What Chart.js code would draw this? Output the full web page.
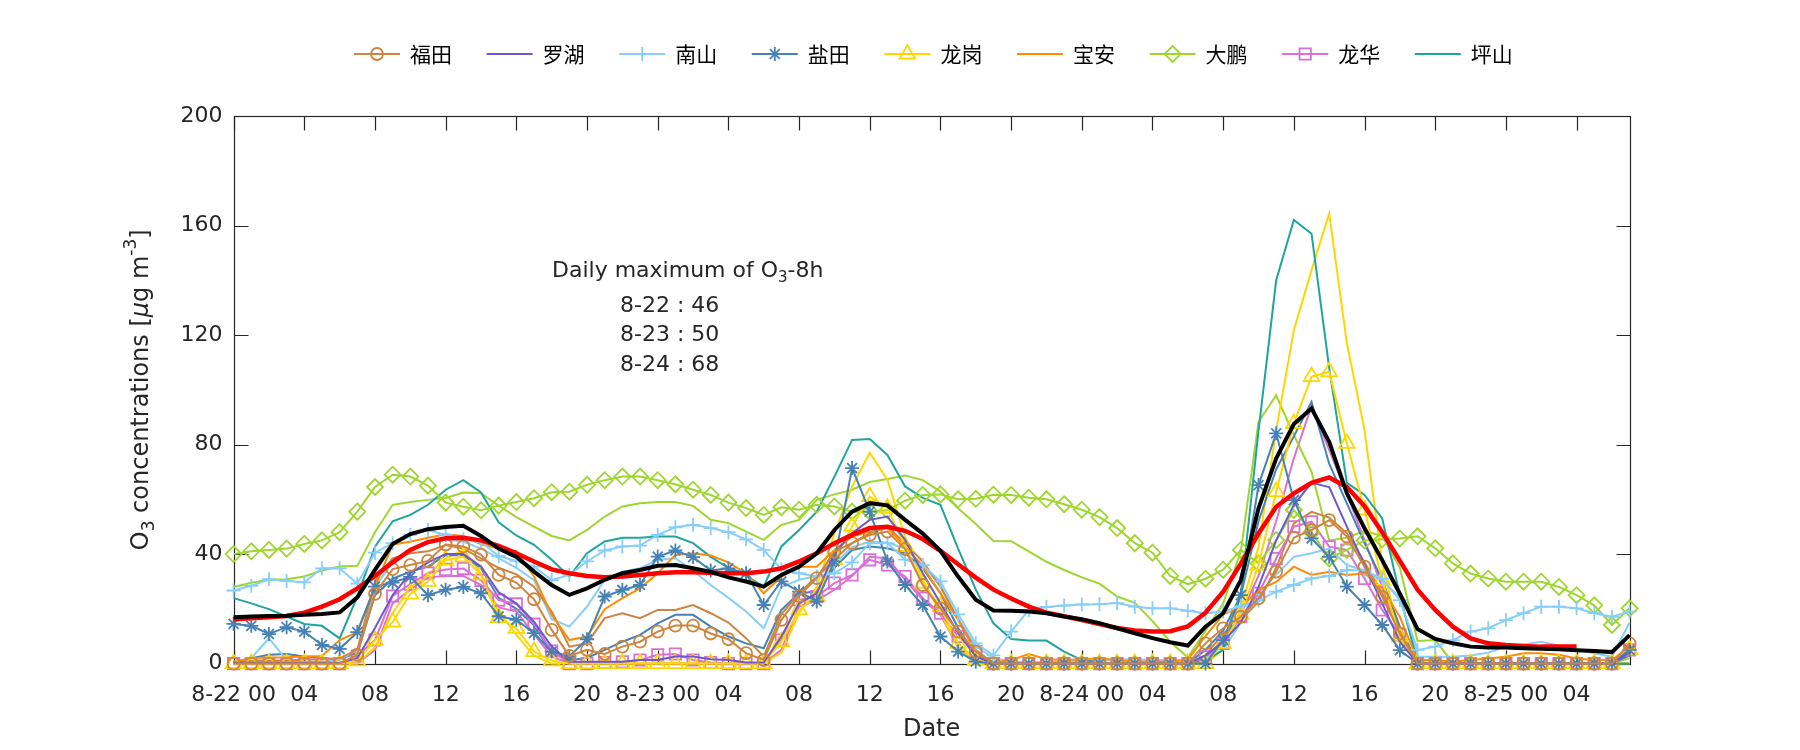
<!DOCTYPE html>
<html><head><meta charset="utf-8">
<script src="https://cdn.jsdelivr.net/npm/chart.js@4.4.1/dist/chart.umd.min.js"></script>
<style>html,body{margin:0;padding:0;background:#fff;}#wrap{width:1800px;height:750px;}</style>
</head><body><div id="wrap"><canvas id="c" width="1800" height="750"></canvas></div>
<script>
// ---------------- DATA ----------------
const hours = [0,1,2,3,4,5,6,7,8,9,10,11,12,13,14,15,16,17,18,19,20,21,22,23,24,25,26,27,28,29,30,31,32,33,34,35,36,37,38,39,40,41,42,43,44,45,46,47,48,49,50,51,52,53,54,55,56,57,58,59,60,61,62,63,64,65,66,67,68,69,70,71,72,73,74,75,76,77,78,79];
const xTickPos = [0,4,8,12,16,20,24,28,32,36,40,44,48,52,56,60,64,68,72,76];
const xTickLabels = ['8-22 00','04','08','12','16','20','8-23 00','04','08','12','16','20','8-24 00','04','08','12','16','20','8-25 00','04'];
const yTickPos = [0,40,80,120,160,200];
const stationNames = ['福田','罗湖','南山','盐田','龙岗','宝安','大鹏','龙华','坪山'];

const futianObs = [0,0,0,0,0,0,0,3.3,25.5,34.5, 36,37.5,43.5,42.8,39.8,32.4,29.6,23.5,12.3,2.8, 5,3.5,6.2,8,11.7,13.9,13.9,11,8.9,3.8, 1.3,16,24.7,31.2,40.9,44,47,48.2,41.8,28.7, 20.2,11.7,4.4,0,0,0,0,0,0,0, 0,0,0,0,0,7.4,12.9,17.1,23.8,33.6, 46,48.8,52.4,46.4,35.4,24.4,11,0,0,0, 0,0,0,0,0,0,0,0,0,7.4];
const luohu = [0.3,0.3,0.3,0.3,0.3,0.3,0.3,2,13,25, 33,37,40,40,35.5,26,22,15.3,6.2,0.7, 0.7,0.7,0.7,1.3,1.3,2.6,2.6,1.6,1.3,0.4, 0.4,9.9,22,25.7,40.3,47.6,52.5,53.7,45.2,33, 22,11.1,2.6,0,0,0,0,0,0,0, 0,0,0,0,0,3,8,15,28,45, 58,66,64.5,50,36,22,8,0,0,0, 0,0,0,0,0,0,0,0,0,4];
const nanshanObs = [26.7,28.4,30.8,30.2,29.7,34.8,34.8,29.2,40.5,44, 47,48.8,47,45.4,44.5,39.3,37.5,35.4,30.5,32.4, 37.3,41.3,42.8,43.1,47,49.8,50.7,49.5,48,45.4, 41.5,34.5,33,31.8,33,37,44,44,38,36, 30,18,7.4,3,11.7,19.6,20.7,21.2,21.6,21.7, 22.1,20.8,20.2,20.2,19.3,18.4,19,21,23,26.3, 28.7,31.1,32,34.2,34,31,23.2,5,6.2,8.6, 11.7,12.9,15.9,18.4,20.8,20.8,20.2,18.4,17.1,19];
const yantianObs = [14.5,13.8,10.8,13.3,11.7,6.8,5.4,11.5,28.1,29.6, 31.7,25,27,28,25.7,17.3,16,11.1,4.4,2.6, 8.9,24.5,26.9,28.7,39.1,41.3,38.9,34,34.8,33, 21.4,30,26.3,22.7,37.3,71.4,55.5,37.3,28.7,21.4, 9.9,4.4,0.7,0,0,0,0,0,0,0, 0,0,0,0,0,0,8.6,25,65.2,84.1, 59.7,45.7,39,28.1,21.4,14.1,4.9,0,0,0, 0,0,0,0,0,0,0,0,0,5];
const longgangObs = [0,0,0,0,0,0,0,1,8.5,15.2, 25.4,30,37.8,39,32.4,16.8,12.9,4.4,1,0, 0,0,0,0,0,0,0,0,0,0, 0,8,19.6,24.5,37.9,50.1,61,56.8,42.8,29.4, 20.8,7.4,1.3,0,0,0,0,0,0,0, 0,0,0,0,0,0,7.4,18,36,62.8, 87.7,104.8,106.6,80.4,56.1,30.5,9.8,0,0,0, 0,0,0,0,0,0,0,0,0,5];
const baoan = [0.7,2,2.2,2.3,2.6,2.8,8.6,11.5,28,43.5, 44.5,46,47.2,46.6,43.6,42,41.1,31.8,17.8,8.6, 9.9,19.9,23.9,27.5,33,39.7,40.3,39.5,37,33, 25.7,31.8,35.4,35.4,41.5,46.4,48.2,49.5,42.8,35.4, 25.7,16,3.8,0.4,1.3,3.5,1.6,1.3,1.6,1.9, 1.3,0.7,0.7,0.7,1.5,10,18,20.5,26.9,29.8, 35.4,32.4,33.5,32.4,33,27.5,17,1.3,1.3,0.7, 1.3,1.9,2.5,3.8,3.8,3.2,1.9,1.3,1.3,6.2];
const dapengObs = [40,41,41.5,42,43.7,45,48,55.5,64.5,69, 68.3,65,58.8,57.3,56,57.7,59,60.4,62.6,62.8, 65.3,67,68.3,68.3,67,65.5,63.5,61.6,58.8,56.8, 54.3,57.1,56.2,58,57.4,55.5,55.5,56,59.5,61.6, 61.8,60,60.2,61.7,61.6,60.6,60,58.2,56.2,53.5, 49.5,44,40.5,32,29,31,34.3,41.5,36.6,45.1, 56.1,48,38.4,41.5,45,45.4,45.7,46.5,42.1,36.6, 32.9,31.1,29.9,29.9,29.9,28,25,21.3,14.1,20.2];
const longhuaObs = [0,0,0,0,0,0,0,2.8,8.6,24.7, 29,33.1,34.4,34.7,30.4,23.2,21.8,14.4,4.6,0, 0,0.4,0.7,1.3,3.2,3.5,1.3,0.4,0,0, 0,8.6,23.3,24.5,29.4,32.4,37.9,36,31.8,23.9, 18.4,9.9,4.4,0,0,0,0,0,0,0, 0,0,0,0,0,2.5,7.4,17.1,25.7,38.4, 50,51.8,42.7,41.5,31.1,19.6,10.4,0,0,0, 0,0,0,0,0,0,0,0,0,5];
const pingshan = [23.9,22,19.9,17.2,14.5,13.8,9.2,24.5,42.7,52, 54.3,58,63.5,67,62.5,51.6,46.8,43.4,37.9,31.8, 40.3,44.6,46,46,46.4,46.4,44,39,35,32, 28.1,42.8,48.8,55.5,68.3,81.7,82,76.2,64.7,60.5, 58,42,27,14.7,9,8.4,8.4,4.4,1.3,0.5, 0,0,0,0,0,1,5,25,85,140, 162,157,108,66,61.6,53,25,0.5,0,0, 0,0,0,0,0,0,0,0,0,0];

const futianSim = [0.5,1,1,1,1.5,1.5,2,5,30,38.4, 40.3,41,43.3,42,38.4,35,32.6,28.1,19,6.2, 7.4,16.6,18.4,16.6,19.6,19.6,21.4,18.4,15,9.3, 2.6,18,25.7,31.8,37.9,44,47.6,50,44,37.3, 28.1,16,5,0,0,0,0,0,0,0, 0,0,0,0,0,3,11,15.9,22.6,35, 51.2,55.4,53.3,47.6,37,25.6,12.3,0,0,0, 0,0,0,0,0,0,0,0,0,5];
const nanshanSim = [0.7,2,9.2,1.3,0.7,0.7,1.3,5,28,37, 41.5,44,45.2,44.6,42,38.5,35,30.5,16.2,13.5, 20.8,30.6,33.6,34.8,37.9,38.5,34,28.7,24,19, 12.9,28,30.6,32,36.5,42.5,44.5,44.2,42,36, 28.5,16.5,6.2,2,0.8,0.5,0.5,0.8,1,1, 1.5,1.5,1.3,1.3,1,2,5,15,25,32.5, 39,40.3,42,36,34,30.5,24,2.5,2.5,2.5, 3,4,6.2,7,8,6.5,5,3.8,2.5,15];
const yantianSim = [0.5,2,3.2,3.5,2.6,2,1.6,4,25,31, 33.6,35.4,39.6,39.6,34.8,24,20,14,3.8,1.3, 2,5,8,10.5,14.7,17.8,17.8,13.5,9.9,7.4, 5.6,19.6,25.7,26.3,35,41.5,42.8,42.1,40.3,34.8, 25.7,13,3,0,0,0,0,0,0,0, 0,0,0,0,0,5,12,25,52,71, 83,95.6,73,58.5,44,30.5,13.5,0,0,0, 0,0,0,0,0,0,0,0,0,3];
const longgangSim = [0,0,0,0,0,0,0,0,6,18.5, 27.8,32.4,38.5,41.5,33,19,10.5,2.9,0,0, 0,0,0,0,0,0,0,0,0,0, 0,4,18.4,28.1,47.6,64.7,77,67.1,46.4,30.6, 18.4,6.2,0,0,0,0,0,0,0,0, 0,0,0,0,0,0,5,20,42.7,85.3, 121.8,143.7,164.4,117,85.3,36.6,9.8,0,0,0, 0,0,0,0,0,0,0,0,0,0];
const dapengSim = [28,29.5,30.6,30.8,31.8,34,35.5,35.7,48,58, 59,59.8,60.5,62.5,62.2,57.7,53.5,50,46.6,45, 48.8,53.7,57.4,58.6,59,59,57.6,52.5,51.3,48.2, 45.2,50.7,52.5,59.8,61.8,63.5,66.3,67.4,68.7,67, 62.8,56.7,51,44.8,44.7,41,37.2,34.2,31.5,29.2, 24.5,22.2,15.5,8,2.2,12,22,41,88.3,98, 83.5,70,45,46,48.5,46.6,35,8.3,8.6,0.3, 0,0,0,0,0,0,0,0,0,2];
const longhuaSim = [0,0,0,0,0,0,0,0,5,22, 27,31.5,32,32,28.7,20.5,19,10.8,2.6,0, 0,0,0,0,0,0,0,0,0,0, 0,5,20.8,23,27,32,39,38.5,30.6,23.3, 17.8,6,0.5,0,0,0,0,0,0,0, 0,0,0,0,0,2,8,18,32,52, 75,94,78,62,45,28,10,0,0,0, 0,0,0,0,0,0,0,0,0,3];

const cityMean = [16.9,17.2,17.4,17.5,17.8,18.1,18.7,24.2,34.2,43.7, 47.3,49.1,49.9,50.3,46.6,42,39,33.6,28.7,25.1, 27.5,30.6,33,34.2,35.7,36,34.8,33.5,31.5,30, 28.1,32.4,35.4,40.3,48.8,55.5,58.6,57.8,52.5,47.5, 41.2,31.8,23.3,19.4,19.3,19,18.4,17.2,16.2,14.8, 12.9,11.1,9.3,7.8,6.6,13.5,18.4,30.5,56.7,75, 87.5,93.2,81,62.2,49.4,37.8,25.5,12.6,9,7.4, 6.2,5.9,5.9,5.6,5.4,5.2,4.9,4.6,4.2,10.4];
const mean8h = [16.2,16.6,16.9,17.4,18.6,20.8,23.5,27.5,32,37, 41.5,44.4,45.8,46,45,43,40.3,37.3,34.4,33, 32,31.5,31.8,32.4,33,33.4,33.4,33.2,33,33, 33.6,34.8,37.3,40.3,44,47,49.5,50,48.5,45.5, 41.2,36.3,31.4,27,23.8,20.8,18.6,17.3,15.9,14.4, 13,12.1,11.7,11.8,13.6,18.6,26.3,36.5,47.5,57.3, 62.2,66,68,64.5,57.5,48,37.5,27,19.6,13.5, 9.2,7.4,6.8,6.4,6.2,6.2,6.2,null,null,null];

const dailyMaxDays = ['8-22','8-23','8-24'];
const dailyMaxValues = [46,50,68];

// ---------------- STYLE ----------------
const AX = '#262626';
const FONT = "'DejaVu Sans', sans-serif";
const CJK = "'Noto Sans CJK SC', sans-serif";
const FS = 22;      // tick / text font size
const LFS = 24;     // axis label font size
const C = {futian:'#CD853F', luohu:'#6A5ACD', nanshan:'#87CEFA', yantian:'#4682B4', longgang:'#FFD700',
           baoan:'#FF8C00', dapeng:'#9ED62E', longhua:'#DA70D6', pingshan:'#1FA59C'};

function obsSet(label, data, color, style, r, order) {
  return {label, data, borderColor: color, borderWidth: 2, pointStyle: style || false,
    pointRadius: style ? r : 0, pointBorderColor: color, pointBackgroundColor: 'rgba(0,0,0,0)',
    pointBorderWidth: 1.8, tension: 0, order, showInLegend: true};
}
function simSet(data, color, order) {
  return {label: '', data, borderColor: color, borderWidth: 2, pointRadius: 0, tension: 0, order};
}
const datasets = [
  {label:'mean', data: cityMean, borderColor:'#000000', borderWidth:4, pointRadius:0, tension:0, order:0},
  {label:'mean8h', data: mean8h, borderColor:'#FF0000', borderWidth:4.5, pointRadius:0, tension:0, order:1, spanGaps:false},
  obsSet(stationNames[0], futianObs, C.futian, 'circle', 6, 2),
  obsSet(stationNames[1], luohu, C.luohu, null, 0, 3),
  obsSet(stationNames[2], nanshanObs, C.nanshan, 'cross', 7, 4),
  obsSet(stationNames[3], yantianObs, C.yantian, 'star', 7, 5),
  obsSet(stationNames[4], longgangObs, C.longgang, 'triangle', 9, 6),
  obsSet(stationNames[5], baoan, C.baoan, null, 0, 7),
  obsSet(stationNames[6], dapengObs, C.dapeng, 'rectRot', 8, 8),
  obsSet(stationNames[7], longhuaObs, C.longhua, 'rect', 8, 9),
  obsSet(stationNames[8], pingshan, C.pingshan, null, 0, 10),
  simSet(futianSim, C.futian, 11),
  simSet(nanshanSim, C.nanshan, 12),
  simSet(yantianSim, C.yantian, 13),
  simSet(longgangSim, C.longgang, 14),
  simSet(dapengSim, C.dapeng, 15),
  simSet(longhuaSim, C.longhua, 16)
];

function drawRich(ctx, parts, x, y, align) {
  let total = 0;
  parts.forEach(p => { ctx.font = (p.italic ? 'italic ' : '') + p.size + 'px ' + FONT; p.w = ctx.measureText(p.t).width; total += p.w; });
  let cx = align === 'center' ? x - total / 2 : x;
  ctx.textAlign = 'left'; ctx.textBaseline = 'middle';
  parts.forEach(p => { ctx.font = (p.italic ? 'italic ' : '') + p.size + 'px ' + FONT; ctx.fillText(p.t, cx, y + (p.dy || 0)); cx += p.w; });
}

const decor = {
  id: 'decor',
  beforeDatasetsDraw(chart) {
    const {ctx, chartArea: a, scales: {x, y}} = chart;
    ctx.save();
    ctx.strokeStyle = AX; ctx.lineWidth = 1.2;
    const L = Math.round(a.left) + 0.5, R = Math.round(a.right) + 0.5, T = Math.round(a.top) + 0.5, B = Math.round(a.bottom) + 0.5;
    ctx.strokeRect(L, T, R - L, B - T);
    const TL = 14;
    ctx.beginPath();
    xTickPos.forEach(v => { const px = Math.round(x.getPixelForValue(v)) + 0.5;
      ctx.moveTo(px, B); ctx.lineTo(px, B - TL); ctx.moveTo(px, T); ctx.lineTo(px, T + TL); });
    yTickPos.forEach(v => { const py = Math.round(y.getPixelForValue(v)) + 0.5;
      ctx.moveTo(L, py); ctx.lineTo(L + TL, py); ctx.moveTo(R, py); ctx.lineTo(R - TL, py); });
    ctx.stroke();
    ctx.restore();
  },
  afterDraw(chart) {
    const {ctx, chartArea: a} = chart;
    ctx.save();
    ctx.fillStyle = AX;
    // x title
    ctx.font = LFS + 'px ' + FONT; ctx.textAlign = 'center'; ctx.textBaseline = 'middle';
    ctx.fillText('Date', (a.left + a.right) / 2, 730);
    // y title
    ctx.save();
    ctx.translate(142, (a.top + a.bottom) / 2);
    ctx.rotate(-Math.PI / 2);
    drawRich(ctx, [{t:'O', size:LFS}, {t:'3', size:17, dy:8}, {t:' concentrations [', size:LFS},
      {t:'\u03BC', size:LFS, italic:true}, {t:'g m', size:LFS}, {t:'-3', size:17, dy:-10}, {t:']', size:LFS}], 0, 0, 'center');
    ctx.restore();
    // annotation
    drawRich(ctx, [{t:'Daily maximum of O', size:FS}, {t:'3', size:15, dy:7}, {t:'-8h', size:FS}], 552, 271, 'left');
    dailyMaxDays.forEach((d, i) => {
      ctx.font = FS + 'px ' + FONT; ctx.textAlign = 'left'; ctx.textBaseline = 'middle';
      ctx.fillText(d + ' : ' + dailyMaxValues[i], 620, 306 + i * 29.5);
    });
    // legend
    const legendSets = chart.data.datasets.filter(d => d.showInLegend);
    legendSets.forEach((d, i) => {
      const x0 = 354 + i * 132.6, yy = 54;
      ctx.strokeStyle = d.borderColor; ctx.lineWidth = 2;
      ctx.beginPath(); ctx.moveTo(x0, yy); ctx.lineTo(x0 + 46, yy); ctx.stroke();
      if (d.pointStyle) {
        ctx.fillStyle = 'rgba(0,0,0,0)';
        ctx.lineWidth = 1.8;
        Chart.helpers.drawPoint(ctx, {pointStyle: d.pointStyle, radius: d.pointRadius, borderWidth: 1.8, rotation: 0}, x0 + 23, yy);
      }
      ctx.fillStyle = '#000'; ctx.font = '21px ' + CJK; ctx.textAlign = 'left'; ctx.textBaseline = 'middle';
      ctx.fillText(d.label, x0 + 56, yy);
    });
    ctx.restore();
  }
};

new Chart(document.getElementById('c'), {
  type: 'line',
  data: {labels: hours, datasets},
  plugins: [decor],
  options: {
    responsive: false, animation: false, devicePixelRatio: 1,
    layout: {padding: {left: 133.6, right: 170.4, top: 116, bottom: 26.4}},
    datasets: {line: {clip: false}},
    plugins: {legend: {display: false}, tooltip: {enabled: false}},
    scales: {
      x: {type: 'linear', min: 0, max: 79,
        afterFit: s => { s.height = 60; },
        afterBuildTicks: s => { s.ticks = xTickPos.map(v => ({value: v})); },
        grid: {display: false, drawTicks: false}, border: {display: false},
        ticks: {callback: (v) => xTickLabels[xTickPos.indexOf(v)], autoSkip: false, maxRotation: 0,
          padding: 18, color: AX, font: {family: FONT, size: FS}}},
      y: {min: 0, max: 200,
        afterFit: s => { s.width = 100; },
        afterBuildTicks: s => { s.ticks = yTickPos.map(v => ({value: v})); },
        grid: {display: false, drawTicks: false}, border: {display: false},
        ticks: {padding: 11, color: AX, font: {family: FONT, size: FS}}}
    }
  }
});
</script></body></html>
